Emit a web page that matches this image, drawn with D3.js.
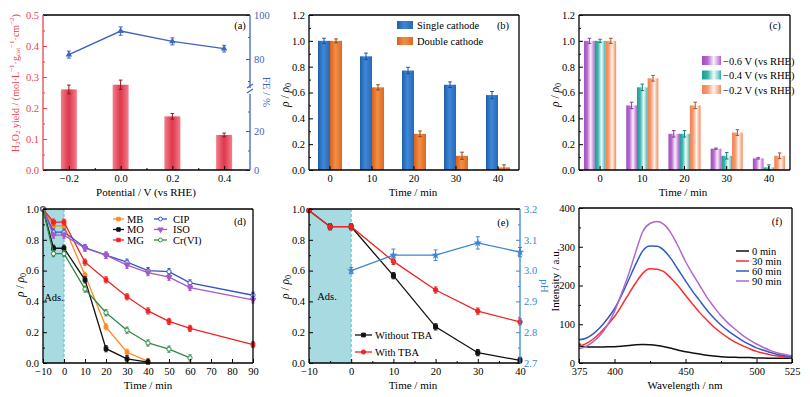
<!DOCTYPE html>
<html>
<head>
<meta charset="utf-8">
<script src="https://cdn.jsdelivr.net/npm/d3@7"></script>
<style>
  body { margin: 0; background: #fff; }
  svg text { font-family: "Liberation Serif", "Times New Roman", serif; }
</style>
</head>
<body>
<div id="chart"></div>
<script>
// ---------- data ----------
// (a) H2O2 yield and FE vs potential
const potentials = [-0.2, 0.0, 0.2, 0.4];
const h2o2Yield = [0.26, 0.275, 0.173, 0.113];
const h2o2Err = [0.014, 0.015, 0.009, 0.006];
const feValues = [82, 92.7, 88, 84.7];
const feErr = [1.6, 1.9, 1.6, 1.5];

// (b) single vs double cathode
const timeCats = [0, 10, 20, 30, 40];
const singleCathode = [1.0, 0.88, 0.77, 0.66, 0.58];
const singleErr = [0.02, 0.025, 0.025, 0.022, 0.028];
const doubleCathode = [1.0, 0.64, 0.28, 0.11, 0.02];
const doubleErr = [0.015, 0.02, 0.022, 0.028, 0.02];

// (c) potential series
const potLabels = ["\u22120.6 V (vs RHE)", "\u22120.4 V (vs RHE)", "\u22120.2 V (vs RHE)"];
const rhoM06 = [1.0, 0.5, 0.28, 0.165, 0.09];
const rhoM04 = [1.0, 0.64, 0.28, 0.11, 0.02];
const rhoM02 = [1.0, 0.71, 0.5, 0.29, 0.11];
const errM06 = [0.02, 0.025, 0.025, 0.005, 0.005];
const errM04 = [0.012, 0.025, 0.025, 0.025, 0.02];
const errM02 = [0.02, 0.022, 0.025, 0.022, 0.022];

// (d) pollutants
const tMB = [-10, -5, 0, 10, 20, 30, 40];
const valMB = [1.0, 0.89, 0.89, 0.57, 0.235, 0.07, 0.01];
const tMO = [-10, -5, 0, 10, 20, 30, 40];
const valMO = [1.0, 0.745, 0.745, 0.54, 0.093, 0.027, 0.005];
const tMG = [-10, -5, 0, 10, 20, 30, 40, 50, 60, 90];
const valMG = [1.0, 0.915, 0.915, 0.655, 0.54, 0.43, 0.338, 0.27, 0.225, 0.12];
const tCIP = [-10, -5, 0, 10, 20, 30, 40, 50, 60, 90];
const valCIP = [1.0, 0.85, 0.85, 0.75, 0.70, 0.655, 0.60, 0.593, 0.52, 0.44];
const tISO = [-10, -5, 0, 10, 20, 30, 40, 50, 60, 90];
const valISO = [1.0, 0.83, 0.83, 0.745, 0.70, 0.635, 0.587, 0.557, 0.49, 0.41];
const tCr = [-10, -5, 0, 10, 20, 30, 40, 50, 60];
const valCr = [1.0, 0.71, 0.71, 0.48, 0.326, 0.213, 0.13, 0.09, 0.033];

// (e) TBA scavenging and pH
const tTBA = [-10, -5, 0, 10, 20, 30, 40];
const withoutTBA = [0.99, 0.885, 0.885, 0.567, 0.235, 0.067, 0.017];
const withTBA = [0.99, 0.885, 0.885, 0.66, 0.474, 0.337, 0.267];
const tbaErr = [0.01, 0.02, 0.02, 0.02, 0.02, 0.02, 0.02];
const tPH = [0, 10, 20, 30, 40];
const phValues = [3.0, 3.05, 3.05, 3.09, 3.06];
const phErr = [0.01, 0.02, 0.017, 0.02, 0.015];

// (f) fluorescence spectra
const wavelengths = [375, 380, 385, 390, 395, 400, 405, 410, 415, 420, 425, 430, 435, 440, 445, 450,
                     455, 460, 465, 470, 475, 480, 485, 490, 495, 500, 505, 510, 515, 520, 525];
const spec0 = [43, 42, 41, 41, 42, 42, 43, 45, 47, 48, 47, 45, 42, 38, 33, 29,
               26, 23, 20, 18, 16, 15, 15, 14, 14, 13, 13, 12, 12, 12, 13];
const spec30 = [44, 50, 62, 78, 98, 120, 148, 178, 207, 232, 243, 242, 235, 218, 198, 175,
                152, 130, 111, 93, 78, 65, 54, 45, 37, 30, 25, 21, 18, 16, 14];
const spec60 = [60, 64, 75, 92, 114, 140, 175, 215, 255, 290, 302, 301, 290, 268, 240, 212,
                185, 161, 137, 116, 98, 83, 70, 58, 48, 39, 33, 27, 22, 19, 16];
const spec90 = [37, 43, 55, 72, 98, 133, 180, 230, 287, 340, 360, 365, 357, 334, 300, 262,
                230, 200, 170, 145, 122, 103, 87, 72, 60, 49, 40, 32, 26, 22, 18];
const specLabels = ["0 min", "30 min", "60 min", "90 min"];

// ---------- setup ----------
const svg = d3.select("#chart").append("svg")
    .attr("width", 810).attr("height", 397);
const defs = svg.append("defs");

function hGrad(id, stops) {
    const lg = defs.append("linearGradient").attr("id", id)
        .attr("x1", "0%").attr("x2", "100%").attr("y1", "0%").attr("y2", "0%");
    stops.forEach(s => lg.append("stop").attr("offset", s[0]).attr("stop-color", s[1]));
}
hGrad("gRed", [[0, "#f27f8c"], [0.45, "#e13c50"], [0.55, "#e13c50"], [1, "#f27f8c"]]);
hGrad("gBlue", [[0, "#1e5fa8"], [0.45, "#3f88d8"], [1, "#2769b6"]]);
hGrad("gOrange", [[0, "#d8621a"], [0.45, "#f28e46"], [1, "#dc6a22"]]);
hGrad("gPurple", [[0, "#a04cbb"], [0.3, "#b86ad0"], [0.62, "#faf0fc"], [0.85, "#d49ae2"], [1, "#b060c8"]]);
hGrad("gTeal", [[0, "#1f9a94"], [0.3, "#3ab3ac"], [0.62, "#effaf9"], [0.85, "#8ad4cf"], [1, "#2aa8a1"]]);
hGrad("gSalmon", [[0, "#f0804e"], [0.3, "#f69a70"], [0.62, "#fff3ee"], [0.85, "#f8b596"], [1, "#f28a5a"]]);

const fmt1 = d => d3.format(".1f")(d).replace("-", "\u2212");
const fmt0 = d => d3.format("d")(d).replace("-", "\u2212");

// axis helper: inward ticks, no domain line
function axis(g, gen, tx, ty, color, size) {
    const a = g.append("g").attr("transform", "translate(" + tx + "," + ty + ")").call(gen);
    a.select(".domain").remove();
    a.selectAll("line").attr("stroke", color).attr("stroke-width", 1);
    a.selectAll("text").attr("fill", color).style("font-size", (size || 10.5) + "px")
        .style("font-family", '"Liberation Serif", serif');
    return a;
}

function frame(box, colors) {
    colors = colors || {};
    const g = svg.append("g");
    g.append("line").attr("x1", box.x).attr("x2", box.x + box.w).attr("y1", box.y).attr("y2", box.y)
        .attr("stroke", "#000").attr("stroke-width", 1.3);
    g.append("line").attr("x1", box.x).attr("x2", box.x + box.w).attr("y1", box.y + box.h).attr("y2", box.y + box.h)
        .attr("stroke", "#000").attr("stroke-width", 1.3);
    g.append("line").attr("x1", box.x).attr("x2", box.x).attr("y1", box.y).attr("y2", box.y + box.h)
        .attr("stroke", colors.left || "#000").attr("stroke-width", 1.3);
    if (!colors.noRight) {
        g.append("line").attr("x1", box.x + box.w).attr("x2", box.x + box.w).attr("y1", box.y).attr("y2", box.y + box.h)
            .attr("stroke", colors.right || "#000").attr("stroke-width", 1.3);
    }
    return g;
}

function errBar(g, x, y1, y2, color, cap) {
    cap = cap || 2;
    g.append("line").attr("x1", x).attr("x2", x).attr("y1", y1).attr("y2", y2).attr("stroke", color).attr("stroke-width", 1);
    g.append("line").attr("x1", x - cap).attr("x2", x + cap).attr("y1", y1).attr("y2", y1).attr("stroke", color).attr("stroke-width", 1);
    g.append("line").attr("x1", x - cap).attr("x2", x + cap).attr("y1", y2).attr("y2", y2).attr("stroke", color).attr("stroke-width", 1);
}

function label(text, x, y, opts) {
    opts = opts || {};
    const t = svg.append("text").attr("x", x).attr("y", y)
        .attr("text-anchor", opts.anchor || "middle")
        .attr("dominant-baseline", "central")
        .style("font-size", (opts.size || 11) + "px")
        .attr("fill", opts.color || "#000")
        .text(text);
    if (opts.rotate) t.attr("transform", "rotate(" + opts.rotate + "," + x + "," + y + ")");
    return t;
}

function rhoTitle(x, y) {
    const t = label("", x, y, { rotate: -90, size: 11.5 });
    t.append("tspan").style("font-style", "italic").text("\u03c1");
    t.append("tspan").text(" / ");
    t.append("tspan").style("font-style", "italic").text("\u03c1");
    t.append("tspan").attr("dy", 3).style("font-size", "8px").text("0");
}

// ================= (a) =================
const boxA = { x: 43, y: 15, w: 207, h: 155 };
const xA = d3.scaleLinear().domain([-0.3, 0.5]).range([boxA.x, boxA.x + boxA.w]);
const yA = d3.scaleLinear().domain([0, 0.5]).range([boxA.y + boxA.h, boxA.y]);
// broken right axis: lower 0-40, upper 65-100
const feLow = d3.scaleLinear().domain([0, 40]).range([boxA.y + boxA.h, 92]);
const feHigh = d3.scaleLinear().domain([65, 100]).range([92, boxA.y]);
const redA = "#ee3f4d", blueA = "#3f63c4";

const gA = svg.append("g");
gA.selectAll("rect").data(potentials).enter().append("rect")
    .attr("x", d => xA(d) - 8).attr("width", 16)
    .attr("y", (d, i) => yA(h2o2Yield[i]))
    .attr("height", (d, i) => yA(0) - yA(h2o2Yield[i]))
    .attr("fill", "url(#gRed)");
potentials.forEach((p, i) => errBar(gA, xA(p), yA(h2o2Yield[i] + h2o2Err[i]), yA(h2o2Yield[i] - h2o2Err[i]), "#8a1c22", 1.8));

gA.append("path").datum(potentials)
    .attr("d", d3.line().x(d => xA(d)).y((d, i) => feHigh(feValues[i])))
    .attr("fill", "none").attr("stroke", blueA).attr("stroke-width", 1.4);
potentials.forEach((p, i) => {
    errBar(gA, xA(p), feHigh(feValues[i] + feErr[i]), feHigh(feValues[i] - feErr[i]), blueA, 2);
    gA.append("path").attr("d", d3.symbol(d3.symbolTriangle, 18)())
        .attr("transform", "translate(" + xA(p) + "," + feHigh(feValues[i]) + ")").attr("fill", blueA);
});

const fA = frame(boxA, { left: redA, noRight: true });
// right spine, broken
const rx = boxA.x + boxA.w;
fA.append("line").attr("x1", rx).attr("x2", rx).attr("y1", boxA.y).attr("y2", 88).attr("stroke", blueA).attr("stroke-width", 1.3);
fA.append("line").attr("x1", rx).attr("x2", rx).attr("y1", 94).attr("y2", boxA.y + boxA.h).attr("stroke", blueA).attr("stroke-width", 1.3);
[86, 91].forEach(yy => fA.append("line").attr("x1", rx - 3).attr("x2", rx + 3).attr("y1", yy + 2).attr("y2", yy - 2)
    .attr("stroke", blueA).attr("stroke-width", 1.2));

axis(gA, d3.axisLeft(yA).tickValues([0, 0.1, 0.2, 0.3, 0.4, 0.5]).tickFormat(fmt1).tickSize(-4).tickPadding(4), boxA.x, 0, redA);
axis(gA, d3.axisLeft(yA).tickValues([0.05, 0.15, 0.25, 0.35, 0.45]).tickFormat("").tickSize(-2), boxA.x, 0, redA);
axis(gA, d3.axisBottom(xA).tickValues(potentials).tickFormat(fmt1).tickSize(-4).tickPadding(5), 0, boxA.y + boxA.h, "#000");
axis(gA, d3.axisBottom(xA).tickValues([-0.1, 0.1, 0.3]).tickFormat("").tickSize(-2), 0, boxA.y + boxA.h, "#000");
axis(gA, d3.axisRight(feLow).tickValues([0, 20]).tickFormat(fmt0).tickSize(-4).tickPadding(4), rx, 0, blueA);
axis(gA, d3.axisRight(feLow).tickValues([10, 30]).tickFormat("").tickSize(-2), rx, 0, blueA);
axis(gA, d3.axisRight(feHigh).tickValues([80, 100]).tickFormat(fmt0).tickSize(-4).tickPadding(4), rx, 0, blueA);
axis(gA, d3.axisRight(feHigh).tickValues([70, 90]).tickFormat("").tickSize(-2), rx, 0, blueA);

label("(a)", 240, 25, { size: 10.5 });
label("Potential / V (vs RHE)", 146, 192, { size: 11 });
label("FE / %", 267, 92, { rotate: 90, color: blueA, size: 11 });
const tA = label("", 15, 83, { rotate: -90, color: redA, size: 10 });
tA.append("tspan").text("H");
tA.append("tspan").attr("dy", 2.5).style("font-size", "7px").text("2");
tA.append("tspan").attr("dy", -2.5).text("O");
tA.append("tspan").attr("dy", 2.5).style("font-size", "7px").text("2");
tA.append("tspan").attr("dy", -2.5).text(" yield / (mol\u00b7L");
tA.append("tspan").attr("dy", -3).style("font-size", "7px").text("\u22121");
tA.append("tspan").attr("dy", 3).text("\u00b7g");
tA.append("tspan").attr("dy", 2.5).style("font-size", "7px").text("cat");
tA.append("tspan").attr("dy", -5.5).style("font-size", "7px").text("\u22121");
tA.append("tspan").attr("dy", 3).text("\u00b7cm");
tA.append("tspan").attr("dy", -3).style("font-size", "7px").text("\u22122");
tA.append("tspan").attr("dy", 3).text(")");

// ================= (b) =================
const boxB = { x: 309, y: 15, w: 210, h: 155 };
const xB = d3.scaleBand().domain(timeCats).range([boxB.x, boxB.x + boxB.w]);
const yB = d3.scaleLinear().domain([0, 1.2]).range([boxB.y + boxB.h, boxB.y]);
const gB = svg.append("g");
const bw = 12;
timeCats.forEach((t, i) => {
    const cx = xB(t) + xB.bandwidth() / 2;
    gB.append("rect").attr("x", cx - bw).attr("width", bw).attr("y", yB(singleCathode[i]))
        .attr("height", yB(0) - yB(singleCathode[i])).attr("fill", "url(#gBlue)");
    gB.append("rect").attr("x", cx).attr("width", bw).attr("y", yB(doubleCathode[i]))
        .attr("height", yB(0) - yB(doubleCathode[i])).attr("fill", "url(#gOrange)");
    errBar(gB, cx - bw / 2, yB(singleCathode[i] + singleErr[i]), yB(singleCathode[i] - singleErr[i]), "#1a4c98", 1.8);
    errBar(gB, cx + bw / 2, yB(doubleCathode[i] + doubleErr[i]), yB(Math.max(0, doubleCathode[i] - doubleErr[i])), "#8a4418", 1.8);
});
frame(boxB);
axis(gB, d3.axisLeft(yB).tickValues([0, 0.2, 0.4, 0.6, 0.8, 1.0, 1.2]).tickFormat(fmt1).tickSize(-4).tickPadding(4), boxB.x, 0, "#000");
axis(gB, d3.axisLeft(yB).tickValues([0.1, 0.3, 0.5, 0.7, 0.9, 1.1]).tickFormat("").tickSize(-2), boxB.x, 0, "#000");
axis(gB, d3.axisBottom(xB).tickFormat(fmt0).tickSize(-4).tickPadding(5), 0, boxB.y + boxB.h, "#000");
label("(b)", 503, 25, { size: 10.5 });
label("Time / min", 413, 192);
rhoTitle(285, 95);
[["Single cathode", "url(#gBlue)"], ["Double cathode", "url(#gOrange)"]].forEach((d, i) => {
    gB.append("rect").attr("x", 397).attr("y", 21 + i * 16).attr("width", 16).attr("height", 8).attr("fill", d[1]);
    label(d[0], 417, 25 + i * 16, { anchor: "start", size: 10.5 });
});

// ================= (c) =================
const boxC = { x: 579, y: 15, w: 211, h: 155 };
const xC = d3.scaleBand().domain(timeCats).range([boxC.x, boxC.x + boxC.w]);
const yC = d3.scaleLinear().domain([0, 1.2]).range([boxC.y + boxC.h, boxC.y]);
const gC = svg.append("g");
const seriesC = [[rhoM06, errM06, "url(#gPurple)", "#8a3aa2"], [rhoM04, errM04, "url(#gTeal)", "#16807a"], [rhoM02, errM02, "url(#gSalmon)", "#a8502a"]];
const cw = 10.7;
timeCats.forEach((t, i) => {
    const cx = xC(t) + xC.bandwidth() / 2;
    seriesC.forEach((s, k) => {
        const x0 = cx - 1.5 * cw + k * cw;
        gC.append("rect").attr("x", x0).attr("width", cw).attr("y", yC(s[0][i]))
            .attr("height", yC(0) - yC(s[0][i])).attr("fill", s[2]);
        errBar(gC, x0 + cw / 2, yC(s[0][i] + s[1][i]), yC(Math.max(0, s[0][i] - s[1][i])), s[3], 1.8);
    });
});
frame(boxC);
axis(gC, d3.axisLeft(yC).tickValues([0, 0.2, 0.4, 0.6, 0.8, 1.0, 1.2]).tickFormat(fmt1).tickSize(-4).tickPadding(4), boxC.x, 0, "#000");
axis(gC, d3.axisLeft(yC).tickValues([0.1, 0.3, 0.5, 0.7, 0.9, 1.1]).tickFormat("").tickSize(-2), boxC.x, 0, "#000");
axis(gC, d3.axisBottom(xC).tickFormat(fmt0).tickSize(-4).tickPadding(5), 0, boxC.y + boxC.h, "#000");
label("(c)", 775, 25, { size: 10.5 });
label("Time / min", 683, 192);
rhoTitle(555, 95);
potLabels.forEach((d, i) => {
    gC.append("rect").attr("x", 702).attr("y", 56 + i * 14.5).attr("width", 19).attr("height", 9).attr("fill", seriesC[i][2]);
    label(d, 723, 61 + i * 14.5, { anchor: "start", size: 10.5 });
});

// ================= (d) =================
const boxD = { x: 43, y: 209, w: 210, h: 154 };
const xD = d3.scaleLinear().domain([-10, 90]).range([boxD.x, boxD.x + boxD.w]);
const yD = d3.scaleLinear().domain([0, 1.0]).range([boxD.y + boxD.h, boxD.y]);
const gD = svg.append("g");
gD.append("rect").attr("x", xD(-10)).attr("y", boxD.y).attr("width", xD(0) - xD(-10)).attr("height", boxD.h).attr("fill", "#a8dae2");
gD.append("line").attr("x1", xD(0)).attr("x2", xD(0)).attr("y1", boxD.y).attr("y2", boxD.y + boxD.h)
    .attr("stroke", "#6cc6d2").attr("stroke-dasharray", "3,2").attr("stroke-width", 1.2);
const seriesD = [
    { name: "MB", t: tMB, v: valMB, color: "#ff8a24", sym: d3.symbolSquare, fill: true },
    { name: "MO", t: tMO, v: valMO, color: "#111111", sym: d3.symbolSquare, fill: true },
    { name: "MG", t: tMG, v: valMG, color: "#ee2424", sym: d3.symbolSquare, fill: true },
    { name: "CIP", t: tCIP, v: valCIP, color: "#2f56c6", sym: d3.symbolCircle, fill: false },
    { name: "ISO", t: tISO, v: valISO, color: "#a659c8", sym: d3.symbolTriangle, fill: true, down: true },
    { name: "Cr(VI)", t: tCr, v: valCr, color: "#2f8a44", sym: d3.symbolCircle, fill: false }
];
function marker(g, s, x, y, size) {
    g.append("path").attr("d", d3.symbol(s.sym, size || 14)())
        .attr("transform", "translate(" + x + "," + y + ")" + (s.down ? " rotate(180)" : ""))
        .attr("fill", s.fill ? s.color : "#fff").attr("stroke", s.color).attr("stroke-width", 1);
}
seriesD.forEach(s => {
    gD.append("path").datum(s.t)
        .attr("d", d3.line().x(d => xD(d)).y((d, i) => yD(s.v[i])))
        .attr("fill", "none").attr("stroke", s.color).attr("stroke-width", 1.3);
    s.t.forEach((t, i) => {
        if (t !== -10) errBar(gD, xD(t), yD(s.v[i] + 0.02), yD(Math.max(0, s.v[i] - 0.02)), s.color, 1.6);
        marker(gD, s, xD(t), yD(s.v[i]));
    });
});
frame(boxD);
axis(gD, d3.axisLeft(yD).tickValues([0, 0.2, 0.4, 0.6, 0.8, 1.0]).tickFormat(fmt1).tickSize(-4).tickPadding(4), boxD.x, 0, "#000");
axis(gD, d3.axisLeft(yD).tickValues([0.1, 0.3, 0.5, 0.7, 0.9]).tickFormat("").tickSize(-2), boxD.x, 0, "#000");
axis(gD, d3.axisBottom(xD).tickValues([-10, 0, 10, 20, 30, 40, 50, 60, 70, 80, 90]).tickFormat(fmt0).tickSize(-4).tickPadding(5), 0, boxD.y + boxD.h, "#000");
label("(d)", 240, 221, { size: 10.5 });
label("Ads.", 54, 297, { size: 10.5 });
label("Time / min", 148, 385);
rhoTitle(20, 285);
seriesD.forEach((s, i) => {
    const col = Math.floor(i / 3), row = i % 3;
    const lx = col === 0 ? 113 : 154, lw = col === 0 ? 11 : 13, ly = 219 + row * 10.5;
    gD.append("line").attr("x1", lx).attr("x2", lx + lw).attr("y1", ly).attr("y2", ly).attr("stroke", s.color).attr("stroke-width", 1.3);
    marker(gD, s, lx + lw / 2, ly, 12);
    label(s.name, col === 0 ? 127 : 173, ly, { anchor: "start", size: 10.5 });
});

// ================= (e) =================
const boxE = { x: 309, y: 209, w: 211, h: 154 };
const xE = d3.scaleLinear().domain([-10, 40]).range([boxE.x, boxE.x + boxE.w]);
const yE = d3.scaleLinear().domain([0, 1.0]).range([boxE.y + boxE.h, boxE.y]);
const yPH = d3.scaleLinear().domain([2.7, 3.2]).range([boxE.y + boxE.h, boxE.y]);
const blueE = "#3a86d2";
const gE = svg.append("g");
gE.append("rect").attr("x", xE(-10)).attr("y", boxE.y).attr("width", xE(0) - xE(-10)).attr("height", boxE.h).attr("fill", "#a8dae2");
gE.append("line").attr("x1", xE(0)).attr("x2", xE(0)).attr("y1", boxE.y).attr("y2", boxE.y + boxE.h)
    .attr("stroke", "#6cc6d2").attr("stroke-dasharray", "3,2").attr("stroke-width", 1.2);
const seriesE = [
    { name: "Without TBA", v: withoutTBA, color: "#111111", sym: d3.symbolSquare, fill: true },
    { name: "With TBA", v: withTBA, color: "#ee2424", sym: d3.symbolCircle, fill: true }
];
seriesE.forEach(s => {
    gE.append("path").datum(tTBA)
        .attr("d", d3.line().x(d => xE(d)).y((d, i) => yE(s.v[i])))
        .attr("fill", "none").attr("stroke", s.color).attr("stroke-width", 1.3);
    tTBA.forEach((t, i) => {
        errBar(gE, xE(t), yE(s.v[i] + tbaErr[i]), yE(Math.max(0, s.v[i] - tbaErr[i])), s.color, 1.8);
        marker(gE, s, xE(t), yE(s.v[i]), 16);
    });
});
gE.append("path").datum(tPH)
    .attr("d", d3.line().x(d => xE(d)).y((d, i) => yPH(phValues[i])))
    .attr("fill", "none").attr("stroke", blueE).attr("stroke-width", 1.3);
tPH.forEach((t, i) => {
    errBar(gE, xE(t), yPH(phValues[i] + phErr[i]), yPH(phValues[i] - phErr[i]), blueE, 2);
    gE.append("path").attr("d", d3.symbol(d3.symbolStar, 22)())
        .attr("transform", "translate(" + xE(t) + "," + yPH(phValues[i]) + ")").attr("fill", blueE);
});
frame(boxE, { right: blueE });
axis(gE, d3.axisLeft(yE).tickValues([0, 0.2, 0.4, 0.6, 0.8, 1.0]).tickFormat(fmt1).tickSize(-4).tickPadding(4), boxE.x, 0, "#000");
axis(gE, d3.axisLeft(yE).tickValues([0.1, 0.3, 0.5, 0.7, 0.9]).tickFormat("").tickSize(-2), boxE.x, 0, "#000");
axis(gE, d3.axisBottom(xE).tickValues([-10, 0, 10, 20, 30, 40]).tickFormat(fmt0).tickSize(-4).tickPadding(5), 0, boxE.y + boxE.h, "#000");
axis(gE, d3.axisBottom(xE).tickValues([-5, 5, 15, 25, 35]).tickFormat("").tickSize(-2), 0, boxE.y + boxE.h, "#000");
axis(gE, d3.axisRight(yPH).tickValues([2.7, 2.8, 2.9, 3.0, 3.1, 3.2]).tickFormat(fmt1).tickSize(-4).tickPadding(4), boxE.x + boxE.w, 0, blueE);
axis(gE, d3.axisRight(yPH).tickValues([2.75, 2.85, 2.95, 3.05, 3.15]).tickFormat("").tickSize(-2), boxE.x + boxE.w, 0, blueE);
label("(e)", 503, 222, { size: 10.5 });
label("Ads.", 327, 296, { size: 10.5 });
label("Time / min", 413, 385);
label("pH", 545, 286, { rotate: 90, color: blueE, size: 11 });
rhoTitle(285, 287);
seriesE.forEach((s, i) => {
    const ly = 335 + i * 17;
    gE.append("line").attr("x1", 355).attr("x2", 372).attr("y1", ly).attr("y2", ly).attr("stroke", s.color).attr("stroke-width", 1.3);
    marker(gE, s, 363.5, ly, 14);
    label(s.name, 375, ly, { anchor: "start", size: 10.5 });
});

// ================= (f) =================
const boxF = { x: 579, y: 208, w: 213, h: 155 };
const xF = d3.scaleLinear().domain([375, 525]).range([boxF.x, boxF.x + boxF.w]);
const yF = d3.scaleLinear().domain([0, 400]).range([boxF.y + boxF.h, boxF.y]);
const gF = svg.append("g");
const seriesF = [[spec0, "#111111"], [spec30, "#ff2a2a"], [spec60, "#2d5cc8"], [spec90, "#b266cc"]];
const lineF = d3.line().curve(d3.curveMonotoneX);
seriesF.forEach(s => {
    gF.append("path").attr("d", lineF(wavelengths.map((w, i) => [xF(w), yF(s[0][i])])))
        .attr("fill", "none").attr("stroke", s[1]).attr("stroke-width", 1.5);
});
frame(boxF);
axis(gF, d3.axisLeft(yF).tickValues([0, 100, 200, 300, 400]).tickFormat(fmt0).tickSize(-4).tickPadding(4), boxF.x, 0, "#000");
axis(gF, d3.axisLeft(yF).tickValues([50, 150, 250, 350]).tickFormat("").tickSize(-2), boxF.x, 0, "#000");
axis(gF, d3.axisBottom(xF).tickValues([375, 400, 450, 500, 525]).tickFormat(fmt0).tickSize(-4).tickPadding(5), 0, boxF.y + boxF.h, "#000");
axis(gF, d3.axisBottom(xF).tickValues([425, 475]).tickFormat("").tickSize(-2), 0, boxF.y + boxF.h, "#000");
label("(f)", 777, 221, { size: 10.5 });
label("Wavelength / nm", 685, 385);
label("Intensity / a.u.", 555, 280, { rotate: -90, size: 11 });
specLabels.forEach((d, i) => {
    const ly = 251 + i * 10;
    gF.append("line").attr("x1", 736).attr("x2", 749).attr("y1", ly).attr("y2", ly).attr("stroke", seriesF[i][1]).attr("stroke-width", 1.5);
    label(d, 752, ly, { anchor: "start", size: 10.5 });
});
</script>
</body>
</html>
